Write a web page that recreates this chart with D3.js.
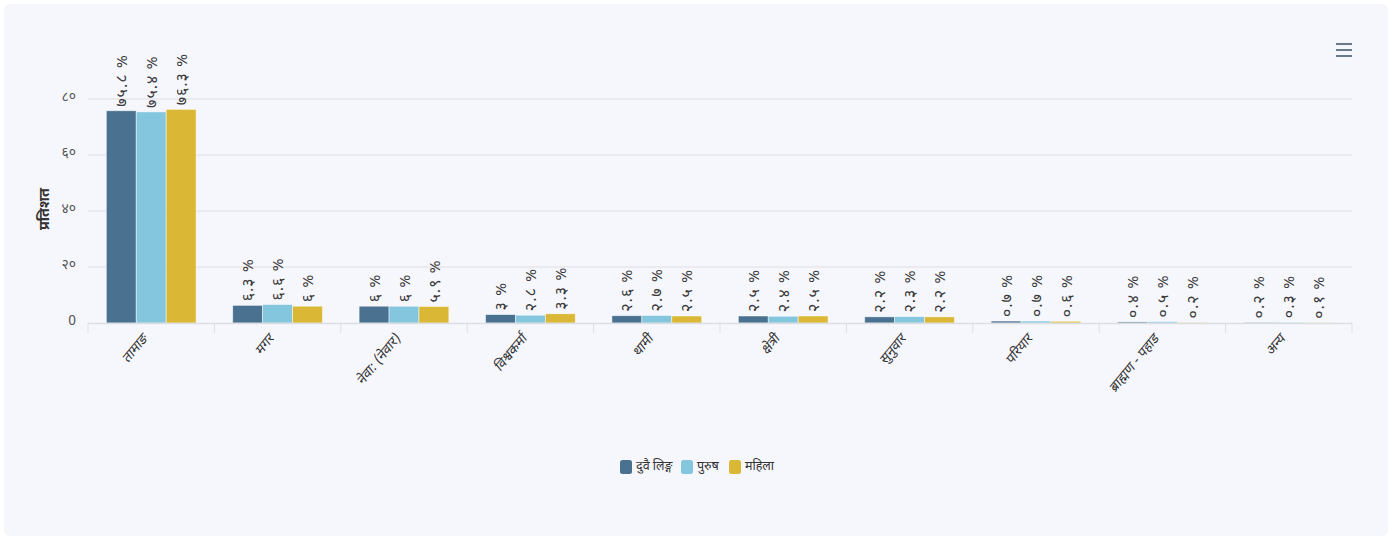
<!DOCTYPE html>
<html>
<head>
<meta charset="utf-8">
<script src="https://cdn.jsdelivr.net/npm/d3@7"></script>
<style>
  html, body { margin: 0; padding: 0; background: #ffffff; }
  svg { display: block; font-family: "Noto Sans Devanagari", "Noto Sans", "Lohit Devanagari", sans-serif; }
</style>
</head>
<body>
<svg id="chart" width="1396" height="539"></svg>
<script>
// categories and series
var categories = ["तामाङ", "मगर", "नेवा: (नेवार)", "विश्वकर्मा", "थामी", "क्षेत्री", "सुनुवार", "परियार", "ब्राह्मण - पहाड", "अन्य"];
var seriesNames = ["दुवै लिङ्ग", "पुरुष", "महिला"];
var seriesColors = ["#4a7190", "#84c6de", "#dbb736"];
var bothSexes = [75.8, 6.3, 6, 3, 2.6, 2.5, 2.2, 0.7, 0.4, 0.2];
var male = [75.4, 6.6, 6, 2.8, 2.7, 2.4, 2.3, 0.7, 0.5, 0.3];
var female = [76.3, 6, 5.9, 3.3, 2.5, 2.5, 2.2, 0.6, 0.2, 0.1];
var yTicks = [0, 20, 40, 60, 80];
var yTickLabels = ["0", "२०", "४०", "६०", "८०"];

var nepDigits = ["०", "१", "२", "३", "४", "५", "६", "७", "८", "९"];
function toNep(v) {
  return String(v).replace(/[0-9]/g, function(c) { return nepDigits[+c]; });
}

var svg = d3.select("#chart");
var W = 1396, H = 539;
var plot = { left: 88, right: 1352, top: 99, bottom: 323 };

// card background
svg.append("rect")
  .attr("x", 4).attr("y", 4)
  .attr("width", W - 12).attr("height", H - 7)
  .attr("rx", 6)
  .attr("fill", "#f6f7fd");

var x = d3.scaleBand().domain(categories).range([plot.left, plot.right]);
var bw = x.bandwidth();
var xs = d3.scaleBand().domain(seriesNames).range([bw * 0.145, bw * 0.855]);
var y = d3.scaleLinear().domain([0, 80]).range([plot.bottom, plot.top]);

// grid
svg.append("g").selectAll("line")
  .data(yTicks.slice(1))
  .enter().append("line")
  .attr("x1", plot.left).attr("x2", plot.right)
  .attr("y1", function(d) { return y(d); })
  .attr("y2", function(d) { return y(d); })
  .attr("stroke", "#e6e6ea").attr("stroke-width", 1.5);

// y labels
svg.append("g").selectAll("text")
  .data(yTicks)
  .enter().append("text")
  .attr("x", 76)
  .attr("y", function(d) { return y(d) - 3; })
  .attr("dy", "0.35em")
  .attr("text-anchor", "end")
  .attr("fill", "#555")
  .style("font-size", "14px")
  .text(function(d, i) { return yTickLabels[i]; });

// y title
svg.append("text")
  .attr("transform", "translate(49," + (y(40) - 2) + ") rotate(-90)")
  .attr("text-anchor", "middle")
  .attr("fill", "#333")
  .style("font-size", "14.5px")
  .style("font-weight", "bold")
  .text("प्रतिशत");

// bars
var seriesData = [bothSexes, male, female];
var groups = svg.append("g").selectAll("g")
  .data(seriesData)
  .enter().append("g")
  .attr("fill", function(d, i) { return seriesColors[i]; });

groups.each(function(vals, si) {
  var g = d3.select(this);
  g.selectAll("rect")
    .data(vals)
    .enter().append("rect")
    .attr("x", function(d, i) { return x(categories[i]) + xs(seriesNames[si]); })
    .attr("y", function(d) { return y(d); })
    .attr("width", xs.bandwidth())
    .attr("height", function(d) { return y(0) - y(d); })
    .attr("stroke", "#ffffff")
    .attr("stroke-opacity", 0.6)
    .attr("stroke-width", 0.8);

  g.selectAll("text")
    .data(vals)
    .enter().append("text")
    .attr("transform", function(d, i) {
      var cx = x(categories[i]) + xs(seriesNames[si]) + xs.bandwidth() / 2;
      return "translate(" + cx + "," + (y(d) - 4) + ") rotate(-90)";
    })
    .attr("dy", "0.35em")
    .attr("fill", "#3a3a3a")
    .style("font-size", "16px")
    .style("letter-spacing", "1px")
    .text(function(d) { return toNep(d) + " %"; });
});

// x axis line and ticks
svg.append("line")
  .attr("x1", plot.left).attr("x2", plot.right)
  .attr("y1", plot.bottom + 0.5).attr("y2", plot.bottom + 0.5)
  .attr("stroke", "#dcdde3").attr("stroke-width", 1.5);

var tickPos = categories.map(function(c) { return x(c); }).concat([plot.right]);
svg.append("g").selectAll("line")
  .data(tickPos)
  .enter().append("line")
  .attr("x1", function(d) { return d; }).attr("x2", function(d) { return d; })
  .attr("y1", plot.bottom).attr("y2", plot.bottom + 10)
  .attr("stroke", "#dcdde3");

// category labels (rotated, slightly squeezed)
svg.append("g").selectAll("text")
  .data(categories)
  .enter().append("text")
  .attr("transform", function(d) {
    return "translate(" + (x(d) + bw / 2 - 3) + "," + (plot.bottom + 16) + ") scale(0.82,1) rotate(-45)";
  })
  .attr("text-anchor", "end")
  .attr("fill", "#333")
  .style("font-size", "15px")
  .text(function(d) { return d; });

// legend
var legendItems = [
  { name: seriesNames[0], color: seriesColors[0], x: 620 },
  { name: seriesNames[1], color: seriesColors[1], x: 681 },
  { name: seriesNames[2], color: seriesColors[2], x: 729 }
];
var leg = svg.append("g").selectAll("g")
  .data(legendItems)
  .enter().append("g")
  .attr("transform", function(d) { return "translate(" + d.x + ",460)"; });
leg.append("rect")
  .attr("width", 12).attr("height", 14)
  .attr("rx", 2.5)
  .attr("fill", function(d) { return d.color; });
leg.append("text")
  .attr("x", 16).attr("y", 6)
  .attr("dy", "0.35em")
  .attr("fill", "#333")
  .style("font-size", "12.5px")
  .text(function(d) { return d.name; });

// menu icon
svg.append("g").selectAll("line")
  .data([44, 50, 56])
  .enter().append("line")
  .attr("x1", 1336).attr("x2", 1352)
  .attr("y1", function(d) { return d; }).attr("y2", function(d) { return d; })
  .attr("stroke", "#6b7a8a").attr("stroke-width", 2);
</script>
</body>
</html>
